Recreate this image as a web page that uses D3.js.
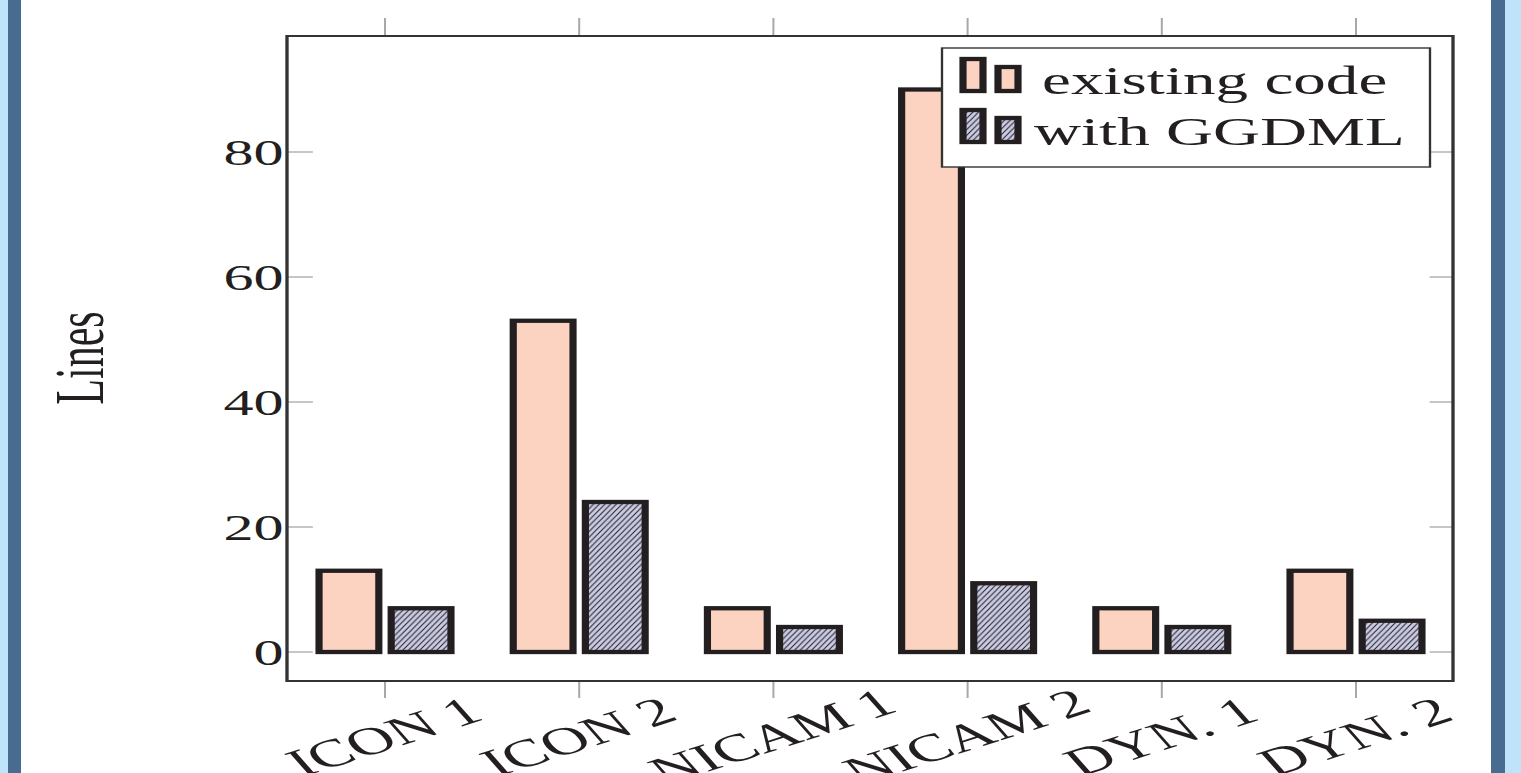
<!DOCTYPE html>
<html>
<head>
<meta charset="utf-8">
<script src="https://cdn.jsdelivr.net/npm/d3@7"></script>
<style>
  html, body { margin: 0; padding: 0; background: #fff; overflow: hidden; }
  svg { display: block; }
</style>
</head>
<body>
<script>
const categories = ["ICON 1", "ICON 2", "NICAM 1", "NICAM 2", "DYN. 1", "DYN. 2"];
const existingCode = [13, 53, 7, 90, 7, 13];
const withGGDML = [7, 24, 4, 11, 4, 5];
const seriesNames = ["existing code", "with GGDML"];
const yTicks = [0, 20, 40, 60, 80];

const width = 1521, height = 773;
// the source figure is stretched horizontally, so draw in a squeezed frame
const sx = 1.67;
const plot = {left: 287, right: 1453, top: 36, bottom: 681};

const svg = d3.select("body").append("svg")
    .attr("width", width)
    .attr("height", height);

// side stripes
svg.append("rect").attr("x", 0).attr("y", 0).attr("width", 9).attr("height", height).attr("fill", "#bfe3fb");
svg.append("rect").attr("x", 8).attr("y", 0).attr("width", 13).attr("height", height).attr("fill", "#476c90");
svg.append("rect").attr("x", 1491).attr("y", 0).attr("width", 14).attr("height", height).attr("fill", "#476c90");
svg.append("rect").attr("x", 1505).attr("y", 0).attr("width", 16).attr("height", height).attr("fill", "#bfe3fb");

const defs = svg.append("defs");
const hatch = defs.append("pattern")
    .attr("id", "hatch")
    .attr("patternUnits", "userSpaceOnUse")
    .attr("width", 3.4)
    .attr("height", 5.7);
hatch.append("rect").attr("width", 3.4).attr("height", 5.7).attr("fill", "#cbcbe5");
hatch.append("path")
    .attr("d", "M-1.7,2.85 L1.7,-2.85 M0,5.7 L3.4,0 M1.7,8.55 L5.1,2.85")
    .attr("stroke", "#1a1a1a")
    .attr("stroke-width", 0.7);

const g = svg.append("g").attr("transform", "scale(" + sx + ",1)");

const x = d3.scalePoint()
    .domain(categories)
    .range([385 / sx, 1356 / sx]);

const y = d3.scaleLinear()
    .domain([-4.64, 98.56])
    .range([plot.bottom, plot.top]);

const left = plot.left / sx, right = plot.right / sx;
const tickGray = "#a8a8a8";
const font = "'Liberation Serif', 'DejaVu Serif', serif";

// y ticks (inside, both sides)
const yt = g.append("g");
yt.selectAll(".tl").data(yTicks).enter().append("line")
    .attr("x1", left).attr("x2", left + 15.5)
    .attr("y1", d => y(d)).attr("y2", d => y(d))
    .attr("stroke", tickGray).attr("stroke-width", 1.3);
yt.selectAll(".tr").data(yTicks).enter().append("line")
    .attr("x1", right - 14).attr("x2", right)
    .attr("y1", d => y(d)).attr("y2", d => y(d))
    .attr("stroke", tickGray).attr("stroke-width", 1.3);
yt.selectAll("text").data(yTicks).enter().append("text")
    .attr("x", left - 2)
    .attr("y", d => y(d))
    .attr("dy", "0.35em")
    .attr("text-anchor", "end")
    .style("font-family", font)
    .style("font-size", "36px")
    .attr("fill", "#231f20")
    .text(d => d);

// x ticks (outside, top and bottom)
g.selectAll(".xb").data(categories).enter().append("line")
    .attr("x1", d => x(d)).attr("x2", d => x(d))
    .attr("y1", plot.bottom).attr("y2", plot.bottom + 17)
    .attr("stroke", tickGray).attr("stroke-width", 1.2);
g.selectAll(".xt").data(categories).enter().append("line")
    .attr("x1", d => x(d)).attr("x2", d => x(d))
    .attr("y1", plot.top - 18).attr("y2", plot.top)
    .attr("stroke", tickGray).attr("stroke-width", 1.2);

// bars
const barW = 35.8, off = 21.6;
const rows = categories.map((c, i) => ({cat: c, a: existingCode[i], b: withGGDML[i]}));

g.selectAll(".barA").data(rows).enter().append("rect")
    .attr("x", d => x(d.cat) - off - barW / 2)
    .attr("y", d => y(d.a))
    .attr("width", barW)
    .attr("height", d => y(0) - y(d.a))
    .attr("fill", "#fcd3c1")
    .attr("stroke", "#231f20")
    .attr("stroke-width", 4.3);

g.selectAll(".barB").data(rows).enter().append("rect")
    .attr("x", d => x(d.cat) + off - barW / 2)
    .attr("y", d => y(d.b))
    .attr("width", barW)
    .attr("height", d => y(0) - y(d.b))
    .attr("fill", "url(#hatch)")
    .attr("stroke", "#231f20")
    .attr("stroke-width", 4.3);

// frame
g.append("rect")
    .attr("x", left).attr("y", plot.top)
    .attr("width", right - left).attr("height", plot.bottom - plot.top)
    .attr("fill", "none")
    .attr("stroke", "#333")
    .attr("stroke-width", 2);

// x labels (cut by the bottom edge, as in the source)
g.selectAll(".xl").data(categories).enter().append("text")
    .attr("transform", d => "translate(" + (x(d) - 1) + ",736) rotate(-28)")
    .attr("text-anchor", "middle")
    .attr("dy", "0.35em")
    .style("font-family", font)
    .style("font-size", "39px")
    .attr("fill", "#231f20")
    .text(d => d);

// y axis title
g.append("text")
    .attr("transform", "translate(" + (78 / sx) + ",358) rotate(-90)")
    .attr("text-anchor", "middle")
    .attr("dy", "0.35em")
    .style("font-family", font)
    .style("font-size", "42px")
    .attr("fill", "#231f20")
    .text("Lines");

// legend
const lg = g.append("g");
lg.append("rect")
    .attr("x", 942 / sx).attr("y", 48)
    .attr("width", (1430 - 942) / sx).attr("height", 119)
    .attr("fill", "#fff")
    .attr("stroke", "#333")
    .attr("stroke-width", 1.4);

const legendFill = ["#fcd3c1", "url(#hatch)"];
const legendRows = seriesNames.map((s, i) => ({name: s, fill: legendFill[i], top: 59 + i * 51}));
const lr = lg.selectAll(".lr").data(legendRows).enter().append("g");
lr.append("rect")
    .attr("x", 963 / sx).attr("y", d => d.top)
    .attr("width", 20 / sx).attr("height", 32)
    .attr("fill", d => d.fill)
    .attr("stroke", "#231f20").attr("stroke-width", 4.3);
lr.append("rect")
    .attr("x", 998 / sx).attr("y", d => d.top + 8)
    .attr("width", 20 / sx).attr("height", 24)
    .attr("fill", d => d.fill)
    .attr("stroke", "#231f20").attr("stroke-width", 4.3);
lr.append("text")
    .attr("x", d => (d.name === "existing code" ? 1042 : 1034) / sx)
    .attr("y", d => d.top + 35)
    .style("font-family", font)
    .style("font-size", "39px")
    .attr("fill", "#231f20")
    .text(d => d.name);
</script>
</body>
</html>
